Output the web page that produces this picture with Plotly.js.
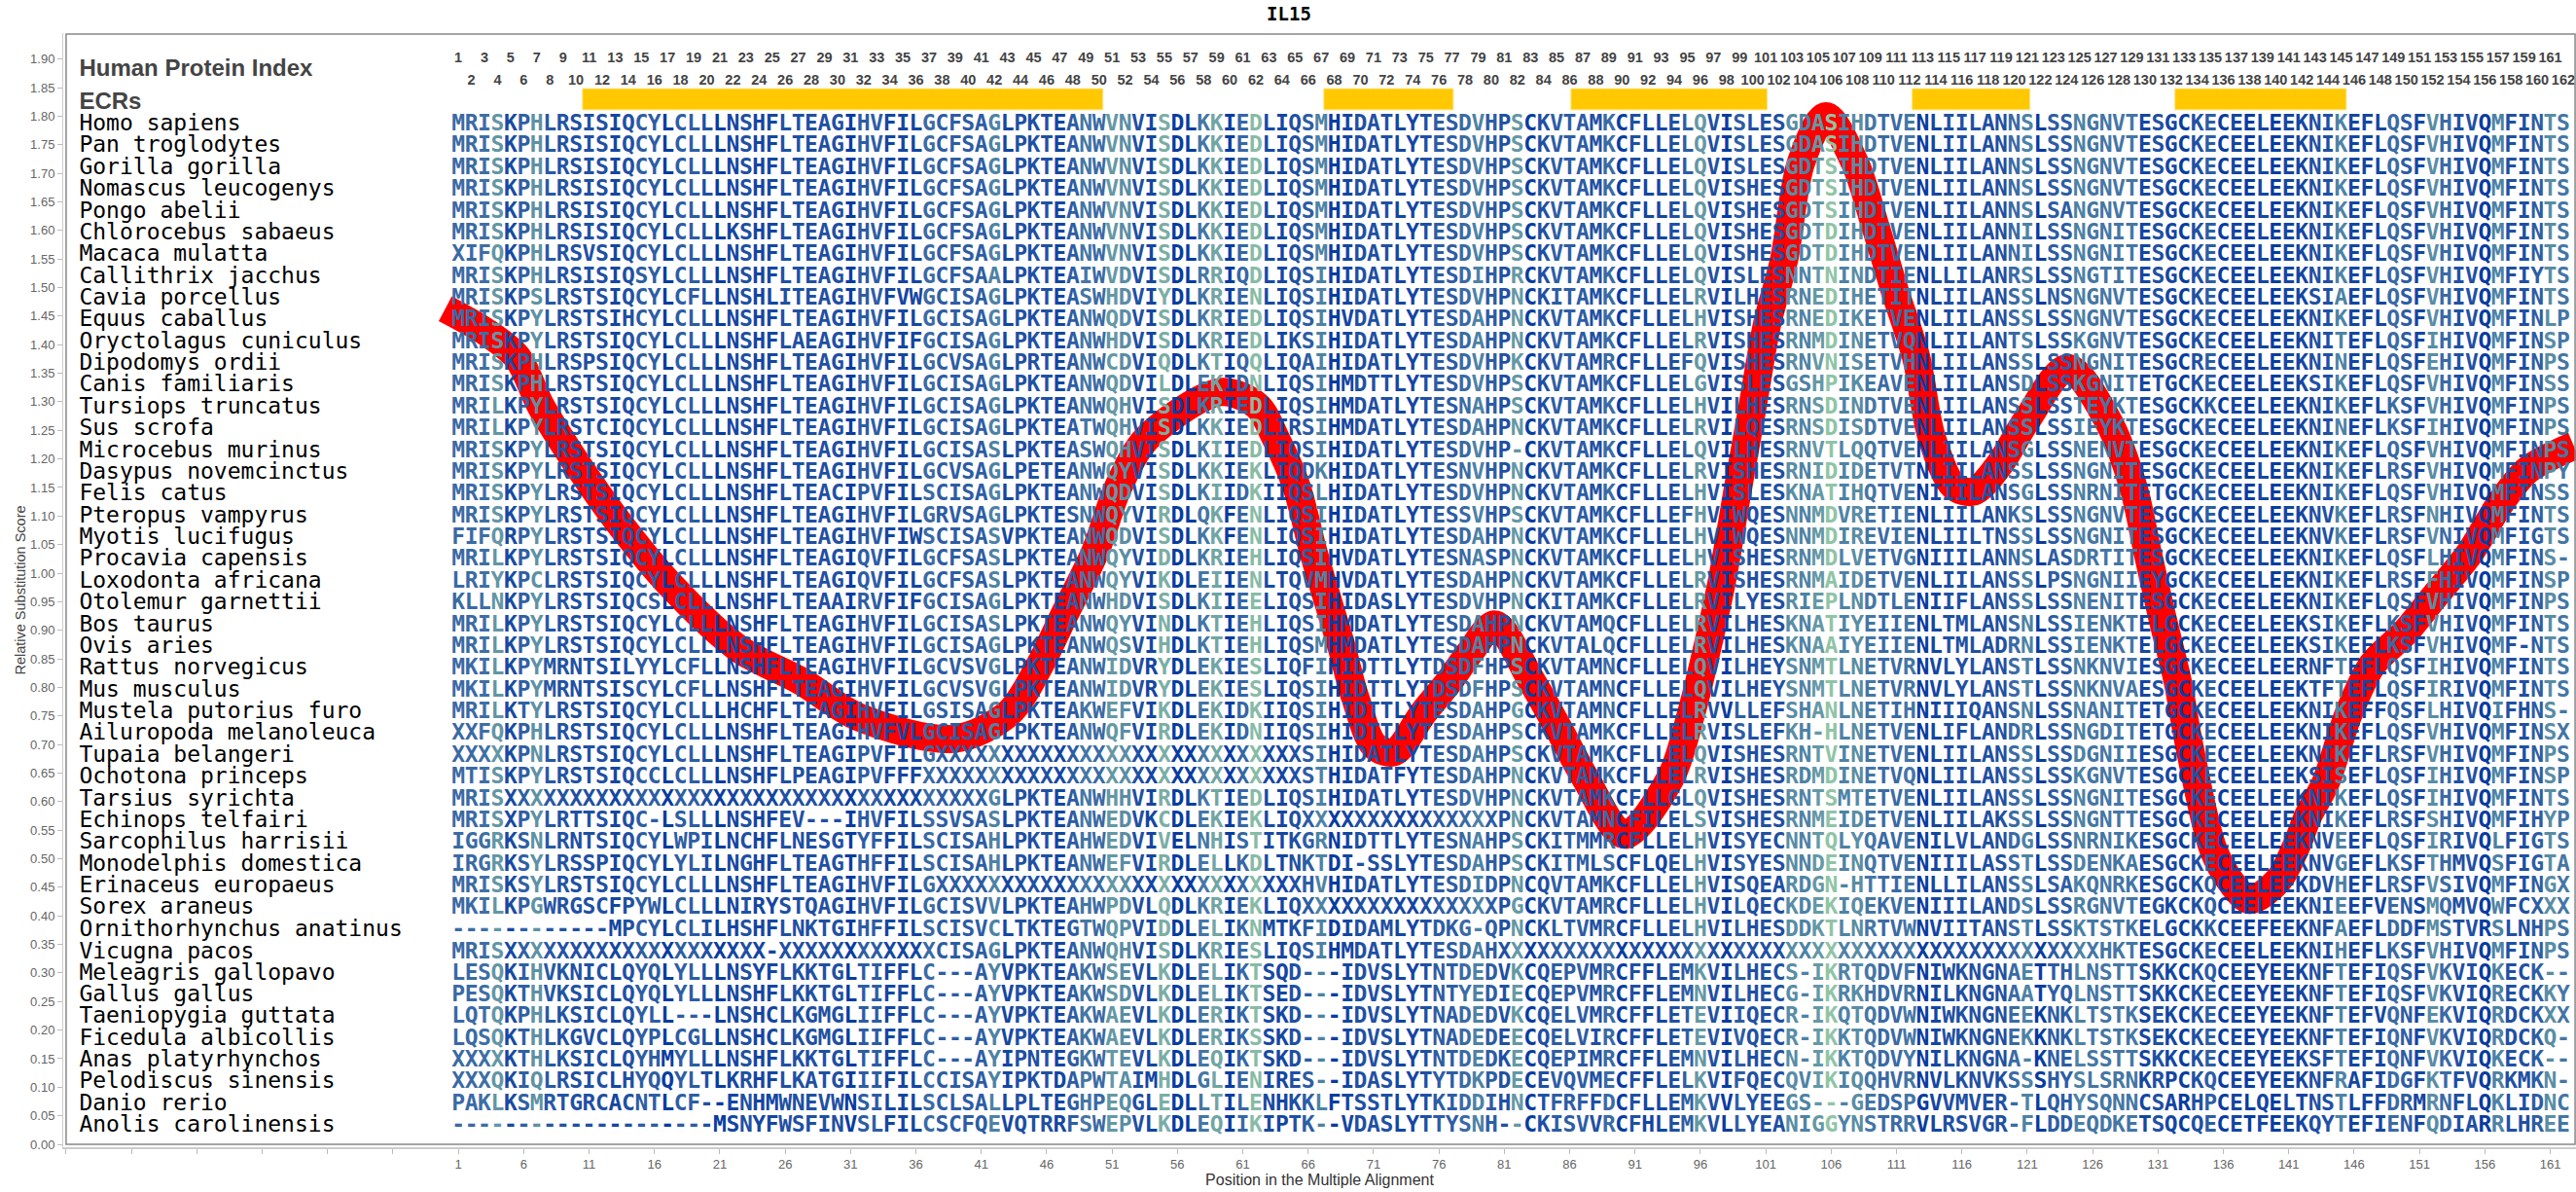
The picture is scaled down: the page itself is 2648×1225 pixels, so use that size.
<!DOCTYPE html>
<html><head><meta charset="utf-8">
<script src="https://cdn.plot.ly/plotly-3.0.1.min.js"></script>
<style>html,body{margin:0;padding:0;background:#fff}#chart{width:2648px;height:1225px}</style>
</head><body><div id="chart"></div>
<script>
const speciesNames=["Homo sapiens","Pan troglodytes","Gorilla gorilla","Nomascus leucogenys","Pongo abelii","Chlorocebus sabaeus","Macaca mulatta","Callithrix jacchus","Cavia porcellus","Equus caballus","Oryctolagus cuniculus","Dipodomys ordii","Canis familiaris","Tursiops truncatus","Sus scrofa","Microcebus murinus","Dasypus novemcinctus","Felis catus","Pteropus vampyrus","Myotis lucifugus","Procavia capensis","Loxodonta africana","Otolemur garnettii","Bos taurus","Ovis aries","Rattus norvegicus","Mus musculus","Mustela putorius furo","Ailuropoda melanoleuca","Tupaia belangeri","Ochotona princeps","Tarsius syrichta","Echinops telfairi","Sarcophilus harrisii","Monodelphis domestica","Erinaceus europaeus","Sorex araneus","Ornithorhynchus anatinus","Vicugna pacos","Meleagris gallopavo","Gallus gallus","Taeniopygia guttata","Ficedula albicollis","Anas platyrhynchos","Pelodiscus sinensis","Danio rerio","Anolis carolinensis"];
const rowScores=[1.785,1.747,1.709,1.671,1.632,1.594,1.556,1.518,1.480,1.442,1.404,1.366,1.328,1.289,1.251,1.213,1.175,1.137,1.099,1.061,1.023,0.984,0.946,0.908,0.870,0.832,0.794,0.756,0.718,0.680,0.641,0.603,0.565,0.527,0.489,0.451,0.413,0.375,0.336,0.298,0.260,0.222,0.184,0.146,0.108,0.070,0.032];
// alignment columns 1-32
const seqColsA=[
"MRISKPHLRSISIQCYLCLLLNSHFLTEAGIH","MRISKPHLRSISIQCYLCLLLNSHFLTEAGIH","MRISKPHLRSISIQCYLCLLLNSHFLTEAGIH","MRISKPHLRSISIQCYLCLLLNSHFLTEAGIH","MRISKPHLRSISIQCYLCLLLNSHFLTEAGIH",
"MRISKPHLRSISIQCYLCLLLKSHFLTEAGIH","XIFQKPHLRSVSIQCYLCLLLNSHFLTEAGIH","MRISKPHLRSISIQSYLCLLLNSHFLTEAGIH","MRISKPSLRSTSIQCYLCFLLNSHLITEAGIH","MRISKPYLRSTSIHCYLCLLLNSHFLTEAGIH",
"MRISKPYLRSTSIQCYLCLLLNSHFLAEAGIH","MRISKPHLRSPSIQCYLCLLLNSHFLTEAGIH","MRISKPHLRSTSIQCYLCLLLNSHFLTEAGIH","MRILKPYLRSTSIQCYLCLLLNSHFLTEAGIH","MRILKPYLRSTCIQCYLCLLLNSHFLTEAGIH",
"MRISKPYLRSTSIQCYLCLLLNSHFLTEAGIH","MRISKPYLRSTSIQCYLCLLLNSHFLTEAGIH","MRISKPYLRSTSIQCYLCLLLNSHFLTEACIP","MRISKPYLRSTSIQCYLCLLLNSHFLTEAGIH","FIFQRPYLRSTSIQCYLCLLLNSHFLTEAGIH",
"MRILKPYLRSTSIQCYLCLLLNSHFLTEAGIQ","LRIYKPCLRSTSIQCYLCLLLNSHFLTEAGIQ","KLLNKPYLRSTSIQCSLCLLLNSHFLTEAAIR","MRILKPYLRSTSIQCYLCLLLNSHFLTEAGIH","MRILKPYLRSTSIQCYLCLLLNSHFLTEAGIH",
"MKILKPYMRNTSILYYLCFLLNSHFLTEAGIH","MKILKPYMRNTSISCYLCFLLNSHFLTEAGIH","MRILKTYLRSTSIQCYLCLLLHCHFLTEAGIH","XXFQKPHLRSTSIQCYLCLLLNSHFLTEAGIH","XXXXKPNLRSTSIQCYLCLLLNSHFLTEAGIP",
"MTISKPYLRSTSIQCCLCLLLNSHFLPEAGIP","MRISXXXXXXXXXXXXXXXXXXXXXXXXXXXX","MRISXPYLRTTSIQC-LSLLLNSHFEV---IH","IGGRKSNLRNTSIQCYLWPILNCHFLNESGTY","IRGRKSYLRSSPIQCYLYLILNGHFLTEAGTH",
"MRISKSYLRSTSIQCYLCLLLNSHFLTEAGIH","MKILKPGWRGSCFPYWLCLLLNIRYSTQAGIH","------------MPCYLCLILHSHFLNKTGIH","MRISXXXXXXXXXXXXXXXXXXXX-XXXXXXX","LESQKIHVKNICLQYQLYLLLNSYFLKKTGLT",
"PESQKTHVKSICLQYQLYLLLNSHFLKKTGLT","LQTQKPHLKSICLQYLL---LNSHCLKGMGLI","LQSQKTHLKGVCLQYPLCGLLNSHCLKGMGLI","XXXXKTHLKSICLQYHMYLLLNSHFLKKTGLT","XXXQKIQLRSICLHYQQYLTLKRHFLKATGII",
"PAKLKSMRTGRCACNTLCF--ENHMWNEVWNS","--------------------MSNYFWSFINVS"];
// alignment columns 33-97
const seqColsB=[
"VFILGCFSAGLPKTEANWVNVISDLKKIEDLIQSMHIDATLYTESDVHPSCKVTAMKCFLLELQV","VFILGCFSAGLPKTEANWVNVISDLKKIEDLIQSMHIDATLYTESDVHPSCKVTAMKCFLLELQV","VFILGCFSAGLPKTEANWVNVISDLKKIEDLIQSMHIDATLYTESDVHPSCKVTAMKCFLLELQV","VFILGCFSAGLPKTEANWVNVISDLKKIEDLIQSMHIDATLYTESDVHPSCKVTAMKCFLLELQV","VFILGCFSAGLPKTEANWVNVISDLKKIEDLIQSMHIDATLYTESDVHPSCKVTAMKCFLLELQV",
"VFILGCFSAGLPKTEANWVNVISDLKKIEDLIQSMHIDATLYTESDVHPSCKVTAMKCFLLELQV","VFILGCFSAGLPKTEANWVNVISDLKKIEDLIQSMHIDATLYTESDVHPSCKVTAMKCFLLELQV","VFILGCFSAALPKTEAIWVDVISDLRRIQDLIQSIHIDATLYTESDIHPRCKVTAMKCFLLELQV","VFVWGCISAGLPKTEASWHDVIYDLKRIENLIQSIHIDATLYTESDVHPNCKITAMKCFLLELRV","VFILGCISAGLPKTEANWQDVISDLKRIEDLIQSIHVDATLYTESDAHPNCKVTAMKCFLLELHV",
"VFIFGCISAGLPKTEANWHDVISDLKRIEDLIKSIHIDATLYTESDAHPNCKVTAMKCFLLELRV","VFILGCVSAGLPRTEANWCDVIQDLKTIQQLIQAIHIDATLYTESDVHPKCKVTAMRCFLLEFQV","VFILGCISAGLPKTEANWQDVILDLEKIDNLIQSIHMDTTLYTESDVHPSCKVTAMKCFLLELGV","VFILGCISAGLPKTEANWQHVISDLKRIEDLIQSIHMDATLYTESNAHPSCKVTAMKCFLLELHV","VFILGCISAGLPKTEATWQHVISDLKKIEDLIRSIHMDATLYTESDAHPNCKVTAMKCFLLELRV",
"VFILGCISASLPKTEASWQHVISDLKIIEDLIQSIHIDATLYTESDVHP-CKVTAMKCFLLELQV","VFILGCVSAGLPETEANWQYVISDLKKIEKLIQDKHIDATLYTESNVHPNCKVTAMKCFLLELRV","VFILSCISAGLPKTEANWQDVISDLKIIDKIIQSLHIDATLYTESDVHPNCKVTAMKCFLLELHV","VFILGRVSAGLPKTESNWQYVIRDLQKFENLIQSIHIDATLYTESSVHPSCKVTAMKCFLLEFHV","VFIWSCISASVPKTEANWQDVISDLKKFENLIQSIHIDATLYTESDAHPNCKVTAMKCFLLELHV",
"VFILGCFSASLPKTEANWQYVIDDLKRIEHLIQSIHVDATLYTESNASPNCKVTAMKCFLLELHV","VFILGCFSASLPKTEANWQYVIKDLEIIENLTQVMHVDATLYTESDAHPNCKVTAMKCFLLELRV","VFIFGCISAGLPKTEANWHDVISDLKIIEELIQSIHIDASLYTESDVHPNCKITAMKCFLLELRV","VFILGCISASLPKTEANWQYVINDLKTIEHLIQSIHMDATLYTESDAHPNCKVTAMQCFLLELRV","VFILGCISAGLPKTEANWQSVIHDLKTIEHLIQSMHMDATLYTESDAHPNCKVTALQCFLLELRV",
"VFILGCVSVGLPKTEANWIDVRYDLEKIESLIQFIHIDTTLYTDSDFHPSCKVTAMNCFLLELQV","VFILGCVSVGLPKTEANWIDVRYDLEKIESLIQSIHIDTTLYTDSDFHPSCKVTAMNCFLLELQV","VFILGSISAGLPKTEAKWEFVIKDLEKIDKIIQSIHIDTTLYTESDAHPGCKVTAMNCFLLELRV","VFVLGCISAGLPKTEANWQFVIRDLEKIDNIIQSIHIDTTLYTESDAHPSCKVTAMKCFLLELRV","VFILGXXXXXXXXXXXXXXXXXXXXXXXXXXXXSIHIDATLYTESDAHPSCKVTAMKCFLLELQV",
"VFFFXXXXXXXXXXXXXXXXXXXXXXXXXXXXXSTHIDATFYTESDAHPNCKVTAMKCFLLELRV","XXXXXXXXXGLPKTEANWHHVIRDLKTIEDLIQSIHIDATLYTESDVHPNCKVTAMKCFLLGLQV","VFILSSVSASLPKTEANWEDVKCDLEKIEKLIQXXXXXXXXXXXXXXXPNCKVTAMNCFILELSV","FFILSCISAHLPKTEAHWEDVIVELNHISTITKGRNIDTTLYTESNAHPSCKITMMRCFLLELHV","FFILSCISAHLPKTEANWEFVIRDLELLKDLTNKTDI-SSLYTESDAHPSCKITMLSCFLQELHV",
"VFILGXXXXXXXXXXXXXXXXXXXXXXXXXXXXHVHIDATLYTESDIDPNCQVTAMKCFLLELHV","VFILGCISVVLPKTEAHWPDVLQDLKRIEKLIQXXXXXXXXXXXXXXXPGCKVTAMRCFLLELHV","FFILSCISVCLTKTEGTWQPVIDDLELIKNMTKFIDIDAMLYTDKG-QPNCKLTVMRCFLLELHV","XXXXXCISAGLPKTEANWQHVISDLKRIESLIQSIHMDATLYTESDAHXXXXXXXXXXXXXXXXX","IFFLC---AYVPKTEAKWSEVLKDLELIKTSQD---IDVSLYTNTDEDVKCQEPVMRCFFLEMKV",
"IFFLC---AYVPKTEAKWSDVLKDLELIKTSED---IDVSLYTNTYEDIECQEPVMRCFFLEMNV","IFFLC---AYVPKTEAKWAEVLKDLERIKTSKD---IDVSLYTNADEDVKCQELVMRCFFLETEV","IFFLC---AYVPKTEAKWAEVLKDLERIKSSKD---IDVSLYTNADEDEECQELVIRCFFLETEV","IFFLC---AYIPNTEGKWTEVLKDLEQIKTSKD---IDVSLYTNTDEDKECQEPIMRCFFLEMNV","IFILCCISAYIPKTDAPWTAIMHDLGLIENIRES--IDASLYTYTDKPDECEVQVMECFFLELKV",
"ILILSCLSALLPLTEGHPEQGLEDLLTILENHKKLFTSSTLYTKIDDIHNCTFRFFDCFLLEMKV","LFILCSCFQEVQTRRFSWEPVLKDLEQIIKIPTK--VDASLYTTYSNH--CKISVVRCFHLEMKV"];
// alignment columns 98-162
const seqColsC=[
"ISLESGDASIHDTVENLIILANNSLSSNGNVTESGCKECEELEEKNIKEFLQSFVHIVQMFINTS","ISLESGDASIHDTVENLIILANNSLSSNGNVTESGCKECEELEEKNIKEFLQSFVHIVQMFINTS","ISLESGDTSIHDTVENLIILANNSLSSNGNVTESGCKECEELEEKNIKEFLQSFVHIVQMFINTS","ISHESGDTSIHDTVENLIILANNSLSSNGNVTESGCKECEELEEKNIKEFLQSFVHIVQMFINTS","ISHESGDTSIHDTVENLIILANNSLSANGNVTESGCKECEELEEKNIKEFLQSFVHIVQMFINTS",
"ISHESGDTDIHDTVENLIILANNILSSNGNITESGCKECEELEEKNIKEFLQSFVHIVQMFINTS","ISHESGDTDIHDTVENLIILANNILSSNGNITESGCKECEELEEKNIKEFLQSFVHIVQMFINTS","ISLESNNTNINDTIENLLILANRSLSSNGTITESGCKECEELEEKNIKEFLQSFVHIVQMFIYTS","ILHESRNEDIHETITNLIILANSSLNSNGNVTESGCKECEELEEKSIAEFLQSFVHIVQMFINTS","ISHESRNEDIKETVENLIILANSSLSSNGNVTESGCKECEELEEKNIKEFLQSFVHIVQMFINLP",
"ISHESRNMDINETVQNLIILANTSLSSKGNVTESGCKECEELEEKNITEFLQSFIHIVQMFINSP","ISHESRNVNISETVHNLIILANSSLSSNGNITESGCRECEELEEKNINEFLQSFEHIVQMFINPS","ISLESGSHPIKEAVENLIILANSDLSSKGNITETGCKECEELEEKSIKEFLQSFVHIVQMFINSS","ILHESRNSDINDTVENLIILANSSLSSTEYKTESGCKKCEELEEKNIKEFLKSFVHIVQMFINPS","ILQESRNSDISDTVENLIILANSSLSSIEYKTESGCKECEELEEKNINEFLKSFIHIVQMFINPS",
"ILHESRNVTLQQTVENLIILANSGLSSNENVTESGCKECEELEEKNIKEFLQSFVHIVQMFINPS","ISHESRNIDIDETVTNLIILANSSLSSNGNITESGCKECEELEEKNIKEFLRSFVHIVQMFINPY","ISLESKNATIHQTVENIIILANSGLSSNRNITETGCKECEELEEKNIKEFLQSFVHIVQMFINSS","IWQESNNMDVRETIENLIILANKSLSSNGNVTESGCKECEELEEKNVKEFLRSFNHIVQMFINTS","IWQESNNMDIREVIENLIILTNSSLSSNGNITESGCKECEELEEKNVKEFLRSFVNIVQMFIGTS",
"ISHESRNMDLVETVGNIIILANNSLASDRTITESGCKECEELEEKNIKEFLQSFLHIVQMFINS-","ISHESRNMAIDETVENLIILANSSLPSNGNIIEYGCKECEELEEKNIKEFLRSFFHIVQMFINSP","ILYESRIEPLNDTLENIIFLANSSLSSNENITESGCKECEELEEKNIKEFLQSFVHIVQMFINPS","ILHESKNATIYEIIENLTMLANSNLSSIENKTELGCKECEELEEKSIKEFLKSFVHIVQMFINTS","ILHESKNAAIYEIIENLTMLADRNLSSIENKTELGCKECEELEEKSIKEFLKSFVHIVQMF-NTS",
"ILHEYSNMTLNETVRNVLYLANSTLSSNKNVIESGCKECEELEERNFTEFLQSFIHIVQMFINTS","ILHEYSNMTLNETVRNVLYLANSTLSSNKNVAESGCKECEELEEKTFTEFLQSFIRIVQMFINTS","VLLEFSHANLNETIHNIIIQANSNLSSNANITETGCKECEELEEKNIKEFFQSFLHIVQIFHNS-","ISLEFKH-HLNETVENLIFLANDRLSSNGDITETGCKECEELEEKNIKEFLQSFVHIVQMFINSX","ISHESRNTVINETVENLIILANSSLSSDGNIIESGCKECEELEEKNIKEFLRSFVHIVQMFINPS",
"ISHESRDMDINETVQNLIILANSSLSSKGNVTESGCKECEELEEKSISEFLQSFIHIVQMFINSP","ISHESRNTSMTETVENLIILANSSLSSNGNITESGCKECEELEEKNIKEFLQSFIHIVQMFINTS","ISHESRNMEIDETVENLIILAKSSLSSNGNTTESGCKECEELEEKNIKEFLRSFSHIVQMFIHYP","ISYECNNTQLYQAVENILVLANDGLSSNRNIKESGCKECEELEEKNVEEFLQSFIRIVQLFIGTS","ISYESNNDEINQTVENIIILASSTLSSDENKAESGCKECEELEEKNVGEFLKSFTHMVQSFIGTA",
"ISQEARDGN-HTTIENLLILANSSLSAKQNRKESGCKQCEELEEKDVHEFLRSFVSIVQMFINGX","ILQECKDEKIQEKVENIIILANDSLSSRGNVTEGKCKQCEELEEKNIEEFVENSMQMVQWFCXXX","ILHESDDKTLNRTVWNVIITANSTLSSKTSTKELGCKKCEEFEEKNFAEFLDDFMSTVRSLNHPS","XXXXXXXXXXXXXXXXXXXXXXXXXXXXXHKTESGCKECEELEEKNIHEFLKSFVHIVQMFINPS","ILHECS-IKRTQDVFNIWKNGNAETTHLNSTTSKKCKQCEEYEEKNFTEFIQSFVKVIQKECK--",
"ILHECG-IKRKHDVRNILKNGNAATYQLNSTTSKKCKECEEYEEKNFTEFIQSFVKVIQRECKKY","IIQECR-IKQTQDVWNIWKNGNEEKNKLTSTKSEKCKECEEYEEKNFTEFVQNFEKVIQRDCKXX","IVQECR-IKKTQDVWNIWKNGNEKKNKLTSTKSEKCKECEEYEEKNFTEFIQNFVKVIQRDCKQ-","ILHECN-IKKTQDVYNILKNGNA-KNELSSTTSKKCKECEEYEEKSFTEFIQNFVKVIQKECK--","IFQECQVIKIQQHVRNVLKNVKSSSHYSLSRNKRPCKQCEEYEEKNFRAFIDGFKTFVQRKMKN-",
"VLYEEGS---GEDSPGVVMVER-TLQHYSQNNCSARHPCELQELTNSTLFFDRMRNFLQKLIDNC","LLYEANIGGYNSTRRVLRSVGR-FLDDEQDKETSQCQECETFEEKQYTEFIENFQDIARRLHREE"];
// shade of each alignment column, 0 = deep blue ... 5 = pale green
const columnShade=[2,2,2.2,3.9,0.7,1.6,3.7,1.3,1.1,1,1,1,0.5,1,1.5,1.5,0,1.5,1.5,1,0,0.5,1,0.5,0.5,1,1,1,1,1,0,1.5,
1.5,0.5,0.5,0.5,2,1.5,1.5,1.5,1.5,3,0.5,1,1,1,0.5,1.5,2.5,2,4,3.5,1,0.5,4.5,0,0,2.5,4.3,0,1.9,4.8,0.7,0.5,1,1.5,3,0,0.5,1,1,1,0.5,0.5,1,1.5,1.5,2,3,1.5,1,4,0,1,1.5,1.5,1.5,1,2,0,1,0.5,0.5,1,1.5,4,1,
0,1.5,1,1,1,3.5,3,4,5,3,3.5,2.5,2,2,2.5,0,0.5,1,1,1,1,1,2,3,0,1.5,1.5,3,2.5,2.5,2.5,2.5,0.5,1,0.5,0,1,1.5,0,0.5,0,0.5,0,0.5,0.5,1,1,3,0.5,0.5,0.5,2,1.5,0.5,3.5,2,1,1,0,3,1,1,1.5,3.5,2.5];
const shadeStops=["#083ca0","#1f50a3","#3a6aa5","#4d82a5","#6498a5","#90c4a5"];
// red curve
const curvePositions=[0,3,5.5,7.3,9.6,13.05,17.15,22.5,27.2,31.6,38.9,43.1,45.5,47.3,49.7,51.5,53.7,59.3,62.1,63.5,65.1,66.4,67.5,68.6,69.6,71.1,72.6,74.8,76.8,78.4,80.3,83.1,85.2,87.2,90.2,93.7,95.3,96.5,97.6,98.9,100,101.1,102.4,103.7,105.6,107.8,109.4,110.9,112.5,113.7,115.4,116.9,118.9,120.9,124.1,127.2,129.1,130.2,131.3,132.5,133.4,135.2,136.5,138,140.2,141.5,142.5,143.8,145.6,147.4,149.9,151.9,154.9,157.2,159.3,162.8];
const curveScores=[1.463,1.424,1.378,1.293,1.208,1.095,0.981,0.867,0.811,0.748,0.710,0.755,0.840,0.925,1.037,1.152,1.237,1.317,1.293,1.237,1.152,1.037,0.952,0.867,0.782,0.697,0.687,0.755,0.811,0.862,0.910,0.811,0.726,0.641,0.542,0.641,0.755,0.867,0.981,1.152,1.293,1.436,1.549,1.719,1.800,1.719,1.606,1.492,1.378,1.237,1.152,1.143,1.191,1.266,1.359,1.266,1.152,1.037,0.925,0.811,0.697,0.518,0.462,0.428,0.462,0.518,0.576,0.632,0.755,0.840,0.896,0.952,1.037,1.123,1.181,1.223];
// ECR spans
const ecrStarts=[10.5,67.2,86.1,112.2,132.3];
const ecrEnds=[50.3,77.1,101.1,121.2,145.4];
const xTickVals=[-29,-24,-19,-14,-9,-4,1,6,11,16,21,26,31,36,41,46,51,56,61,66,71,76,81,86,91,96,101,106,111,116,121,126,131,136,141,146,151,156,161];
const xTickText=xTickVals.map(v=>v>0?String(v):"");
const yTickVals=[0,0.05,0.1,0.15,0.2,0.25,0.3,0.35,0.4,0.45,0.5,0.55,0.6,0.65,0.7,0.75,0.8,0.85,0.9,0.95,1,1.05,1.1,1.15,1.2,1.25,1.3,1.35,1.4,1.45,1.5,1.55,1.6,1.65,1.7,1.75,1.8,1.85,1.9];
const yTickText=yTickVals.map(v=>v.toFixed(2));
const oddNumberRow=1.901, evenNumberRow=1.862;

const sequences=speciesNames.map((_,i)=>seqColsA[i]+seqColsB[i]+seqColsC[i]);
const bad=[];sequences.forEach((s,i)=>{if(seqColsA[i].length!==32||seqColsB[i].length!==65||seqColsC[i].length!==65)bad.push(i+":"+seqColsA[i].length+","+seqColsB[i].length+","+seqColsC[i].length)});
if(bad.length)throw new Error("lengths "+bad.join(" "));
if(columnShade.length!==162)throw new Error("shade "+columnShade.length);

function hex(c){return [1,3,5].map(k=>parseInt(c.substr(k,2),16))}
function shadeColor(v){const a=Math.floor(v),b=Math.min(a+1,shadeStops.length-1),t=v-a,A=hex(shadeStops[a]),B=hex(shadeStops[b]);
 return "rgb("+A.map((x,k)=>Math.round(x+(B[k]-x)*t)).join(",")+")"}
const columnColors=columnShade.map(shadeColor);
const positions=columnShade.map((_,i)=>i+1);
const mono="'DejaVu Sans Mono', monospace";
const traces=[];
traces.push({type:"bar",orientation:"h",y:ecrStarts.map(()=>1.8297),base:ecrStarts,x:ecrEnds.map((e,i)=>e-ecrStarts[i]),width:0.037,marker:{color:"#ffc800",line:{color:"#ffe27a",width:1}},hoverinfo:"skip"});
traces.push({type:"scatter",mode:"lines",x:curvePositions,y:curveScores,line:{color:"#ff0000",width:29,shape:"spline",smoothing:0.9},hoverinfo:"skip"});
sequences.forEach((s,i)=>{traces.push({type:"scatter",mode:"text",x:positions,y:positions.map(()=>rowScores[i]),text:s.split(""),textposition:"middle center",textfont:{family:mono,size:23,weight:"bold",color:columnColors},cliponaxis:false,hoverinfo:"skip"})});
traces.push({type:"scatter",mode:"text",x:speciesNames.map(()=>-28),y:rowScores,text:speciesNames,textposition:"middle right",textfont:{family:mono,size:23,color:"#000"},cliponaxis:false,hoverinfo:"skip"});
const odd=positions.filter(p=>p%2===1), even=positions.filter(p=>p%2===0);
const numFont={family:"'Liberation Sans', sans-serif",size:14.5,weight:"bold",color:"#444"};
traces.push({type:"scatter",mode:"text",x:odd,y:odd.map(()=>oddNumberRow),text:odd.map(String),textposition:"middle center",textfont:numFont,hoverinfo:"skip"});
traces.push({type:"scatter",mode:"text",x:even,y:even.map(()=>evenNumberRow),text:even.map(String),textposition:"middle center",textfont:numFont,hoverinfo:"skip"});
traces.push({type:"scatter",mode:"text",x:[-28,-28],y:[1.881,1.823],text:["Human Protein Index","ECRs"],textposition:"middle right",textfont:{family:"'Liberation Sans', sans-serif",size:24,weight:"bold",color:"#444"},hoverinfo:"skip"});

const layout={width:2648,height:1225,showlegend:false,paper_bgcolor:"#fff",plot_bgcolor:"#fff",
 margin:{l:65,r:0,t:34,b:46,pad:0},
 title:{text:"IL15",x:1325/2648,xanchor:"center",xref:"container",y:1-14/1225,yanchor:"middle",yref:"container",font:{family:mono,size:19,weight:"bold",color:"#000"}},
 xaxis:{range:[-29.22,162.97],tickmode:"array",tickvals:xTickVals,ticktext:xTickText,ticks:"outside",ticklen:5,tickcolor:"#bbb",showgrid:false,zeroline:false,showline:true,linecolor:"#ccc",linewidth:1.5,tickfont:{family:"'Liberation Sans', sans-serif",size:13,color:"#666"},title:{text:"Position in the Multiple Alignment",standoff:2,font:{family:"'Liberation Sans', sans-serif",size:16,color:"#333"}}},
 yaxis:{range:[-0.0051,1.9455],tickmode:"array",tickvals:yTickVals,ticktext:yTickText,ticks:"outside",ticklen:5,tickcolor:"#bbb",showgrid:false,zeroline:false,showline:true,linecolor:"#ccc",linewidth:1,tickfont:{family:"'Liberation Sans', sans-serif",size:13,color:"#666"},title:{text:"Relative Substitution Score",standoff:1,font:{family:"'Liberation Sans', sans-serif",size:14.5,color:"#444"}}},
 shapes:[{type:"rect",xref:"x",yref:"y",x0:-29,x1:162.9,y0:0,y1:1.9438,line:{color:"#888",width:1.5},layer:"above"}]
};
Plotly.newPlot("chart",traces,layout,{displayModeBar:false,staticPlot:true});
</script></body></html>
